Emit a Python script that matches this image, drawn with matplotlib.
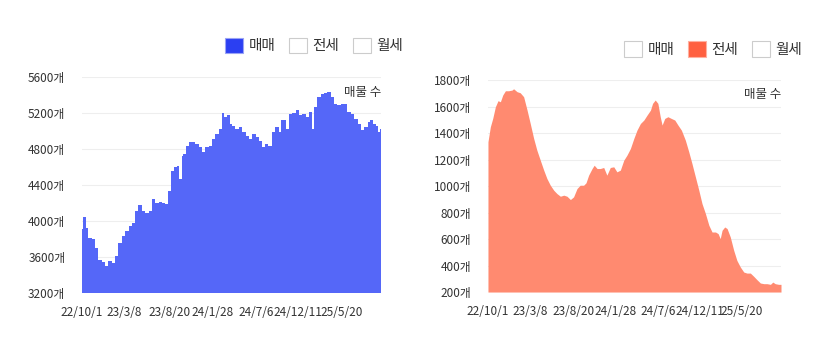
import matplotlib
matplotlib.use("Agg")
import matplotlib.pyplot as plt
from matplotlib.patches import Patch
import pandas as pd

plt.rcParams['font.family'] = ['Noto Sans CJK KR', 'DejaVu Sans']

# 기준일 2022-10-01 부터의 경과 일수
start = pd.Timestamp("2022-10-01")
tick_dates = ["2022-10-01", "2023-03-08", "2023-08-20", "2024-01-28",
              "2024-07-06", "2024-12-11", "2025-05-20"]
end_day = 1109

# 매매 매물 수
sale_days = [0, 9, 17, 30, 42, 55, 67, 79, 92, 104, 117, 129, 141, 154, 166, 179,
             191, 200, 216, 228, 241, 253, 265, 278, 290, 303, 315, 324, 334, 346,
             356, 365, 373, 379, 389, 402, 414, 427, 439, 451, 464, 476, 488, 501,
             513, 523, 532, 544, 553, 563, 575, 588, 600, 613, 625, 637, 650, 662,
             672, 684, 697, 709, 724, 734, 743, 749, 761, 774, 786, 799, 811, 823,
             836, 848, 857, 867, 879, 892, 904, 916, 929, 941, 953, 966, 978, 991,
             1003, 1016, 1028, 1041, 1053, 1065, 1074, 1086, 1096, 1102, 1109]
sale_counts = [3907, 4049, 3926, 3814, 3796, 3703, 3572, 3547, 3498, 3554, 3536, 3610,
               3759, 3833, 3889, 3945, 3982, 4112, 4175, 4112, 4093, 4112, 4242, 4205,
               4216, 4205, 4186, 4335, 4558, 4596, 4614, 4465, 4726, 4744, 4837, 4874,
               4874, 4856, 4819, 4763, 4819, 4837, 4912, 4968, 5023, 5198, 5153, 5172,
               5079, 5060, 5023, 5042, 4986, 4949, 4912, 4968, 4930, 4893, 4826, 4856,
               4837, 4986, 5042, 4986, 5116, 5116, 5023, 5191, 5198, 5228, 5172, 5191,
               5153, 5209, 5023, 5265, 5377, 5407, 5421, 5433, 5377, 5302, 5284, 5302,
               5302, 5209, 5191, 5135, 5079, 5005, 5042, 5098, 5116, 5079, 5060, 4986,
               5023]

# 전세 매물 수
jeonse_days = [0, 9, 18, 28, 38, 47, 56, 66, 78, 91, 97, 110, 122, 135, 148, 160, 173,
               185, 198, 211, 223, 236, 249, 261, 274, 287, 299, 312, 324, 337, 349,
               362, 371, 381, 394, 402, 413, 425, 438, 450, 463, 476, 488, 501, 514,
               526, 539, 552, 564, 577, 590, 602, 615, 623, 633, 643, 652, 659, 669,
               681, 694, 707, 719, 732, 747, 760, 772, 785, 798, 810, 823, 836, 848,
               861, 871, 879, 886, 896, 905, 917, 930, 942, 955, 968, 980, 993, 1006,
               1018, 1031, 1044, 1056, 1069, 1078, 1087, 1100, 1109]
jeonse_counts = [1334, 1447, 1510, 1598, 1644, 1636, 1687, 1719, 1719, 1724, 1734, 1712,
                 1704, 1674, 1573, 1472, 1359, 1271, 1195, 1120, 1057, 1006, 968, 943,
                 923, 931, 923, 898, 918, 981, 1006, 1006, 1024, 1082, 1132, 1157, 1132,
                 1132, 1140, 1082, 1140, 1145, 1107, 1120, 1195, 1233, 1283, 1359, 1422,
                 1472, 1498, 1535, 1573, 1624, 1649, 1624, 1523, 1460, 1510, 1523, 1510,
                 1498, 1460, 1422, 1346, 1258, 1170, 1069, 968, 868, 792, 704, 653, 653,
                 641, 603, 666, 691, 679, 616, 515, 439, 389, 351, 343, 343, 318, 293,
                 268, 263, 263, 258, 275, 263, 258, 258]

legend_labels = ["매매", "전세", "월세"]

tick_days = [(pd.Timestamp(d) - start).days for d in tick_dates]
tick_labels = [f"{pd.Timestamp(d).year % 100}/{pd.Timestamp(d).month}/{pd.Timestamp(d).day}"
               for d in tick_dates]

fig = plt.figure(figsize=(8.32, 3.51), dpi=100)
ax1 = fig.add_axes([0.0986, 0.165, 0.3594, 0.616])
ax2 = fig.add_axes([0.5865, 0.168, 0.3522, 0.604])


def style(ax, yticks, ylim):
    ax.set_xlim(0, end_day)
    ax.set_ylim(*ylim)
    ax.set_yticks(yticks)
    ax.set_yticklabels([f"{v}개" for v in yticks])
    ax.set_xticks(tick_days)
    ax.set_xticklabels(tick_labels)
    ax.tick_params(length=0, labelsize=8.5, colors="#333333")
    ax.tick_params(axis="y", pad=12)
    ax.tick_params(axis="x", pad=9)
    ax.grid(axis="y", color="#eeeeee", linewidth=0.8)
    ax.set_axisbelow(True)
    for s in ax.spines.values():
        s.set_visible(False)
    ax.text(1.0, 0.93, "매물 수", transform=ax.transAxes, ha="right", va="center",
            fontsize=9, color="#333333")


ax1.fill_between(sale_days, sale_counts, 3200, step="mid", color="#5567f8", linewidth=0)
style(ax1, list(range(3200, 5601, 400)), (3200, 5600))

ax2.fill_between(jeonse_days, jeonse_counts, 200, color="#ff8a70", linewidth=0)
style(ax2, list(range(200, 1801, 200)), (200, 1800))

empty = dict(facecolor="white", edgecolor="#cccccc", linewidth=0.8)
h1 = [Patch(facecolor="#2b3ff2", edgecolor="#9aa3f5", linewidth=0.8), Patch(**empty), Patch(**empty)]
h2 = [Patch(**empty), Patch(facecolor="#ff6040", edgecolor="#ffb0a0", linewidth=0.8), Patch(**empty)]

for ax, handles, xr, yc in [(ax1, h1, 403 / 832, 1 - 45.5 / 351), (ax2, h2, 802 / 832, 1 - 49 / 351)]:
    leg = ax.legend(handles, legend_labels, ncol=3, frameon=False, loc="center right",
                    bbox_to_anchor=(xr, yc), bbox_transform=fig.transFigure,
                    handlelength=1.25, handleheight=1.25, handletextpad=0.35,
                    columnspacing=0.95, borderpad=0, borderaxespad=0, fontsize=10.5)
    for t in leg.get_texts():
        t.set_color("#333333")

fig.savefig("out.png", dpi=100)
